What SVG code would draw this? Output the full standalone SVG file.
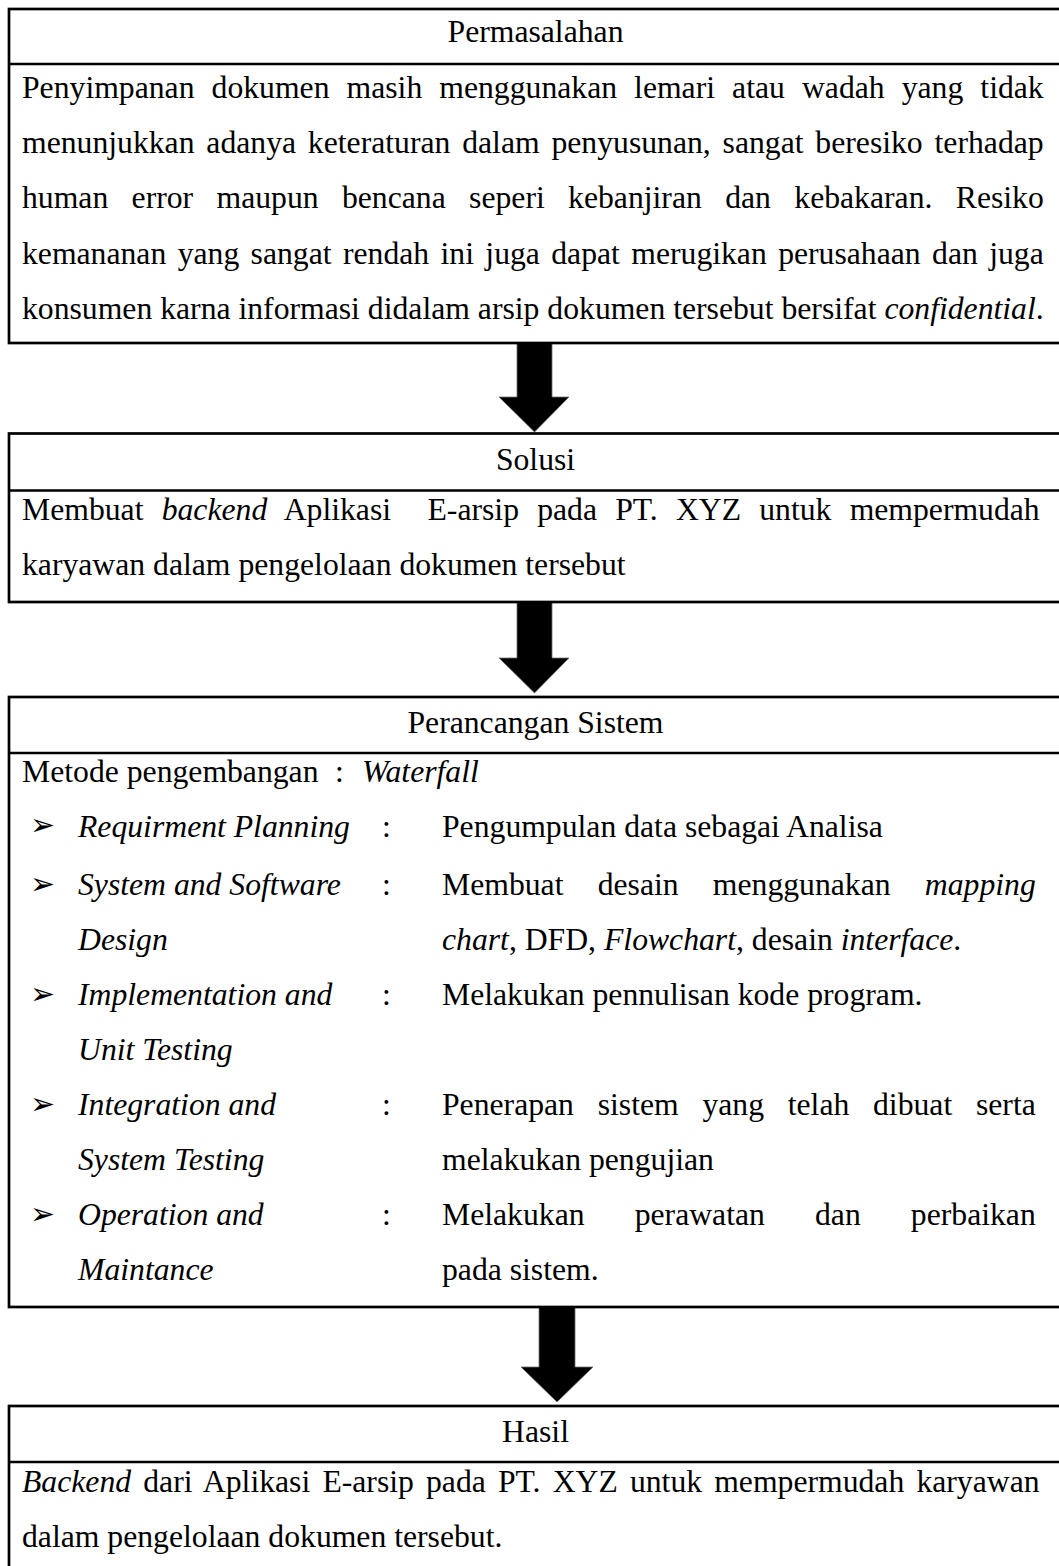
<svg xmlns="http://www.w3.org/2000/svg" width="1059" height="1566" viewBox="0 0 1059 1566">
<style>
  .box { fill: #ffffff; stroke: #000000; stroke-width: 2.7; }
  .div { stroke: #000000; stroke-width: 2.7; }
  .t { font-family: "Liberation Serif", "Times New Roman", serif; font-size: 31.7px; fill: #000000; }
  .h { text-anchor: middle; }
  .i { font-style: italic; }
  .b { font-family: "DejaVu Sans", sans-serif; font-size: 30px; fill: #000000; }
  .arrow { fill: #000000; stroke: #6e6e6e; stroke-width: 0.8; }
</style>
<rect width="1059" height="1566" fill="#ffffff"/>

<g id="connectors">
  <polygon class="arrow" points="517,343 552,343 552,397 569,397 534.5,432 499,397 517,397"/>
  <polygon class="arrow" points="517,602 552,602 552,658 569,658 534.5,693 499,658 517,658"/>
  <polygon class="arrow" points="539,1307 575,1307 575,1367 593,1367 557,1402 521,1367 539,1367"/>
</g>

<g id="permasalahan">
  <rect class="box" x="9" y="9" width="1056" height="334"/>
  <line class="div" x1="9" y1="64" x2="1065" y2="64"/>
  <text class="t h" x="535.5" y="42">Permasalahan</text>
  <text class="t" x="22" y="98" style="word-spacing:9.14px">Penyimpanan dokumen masih menggunakan lemari atau wadah yang tidak</text>
  <text class="t" x="22" y="153.2" style="word-spacing:3.91px">menunjukkan adanya keteraturan dalam penyusunan, sangat beresiko terhadap</text>
  <text class="t" x="22" y="208.4" style="word-spacing:15.43px">human error maupun bencana seperi kebanjiran dan kebakaran. Resiko</text>
  <text class="t" x="22" y="263.6" style="word-spacing:3.45px">kemananan yang sangat rendah ini juga dapat merugikan perusahaan dan juga</text>
  <text class="t" x="22" y="318.8">konsumen karna informasi didalam arsip dokumen tersebut bersifat <tspan class="i">confidential</tspan>.</text>
</g>

<g id="solusi">
  <rect class="box" x="9" y="433.5" width="1056" height="168.5"/>
  <line class="div" x1="9" y1="490.5" x2="1065" y2="490.5"/>
  <text class="t h" x="535.5" y="469.5">Solusi</text>
  <text class="t" x="22" y="520" xml:space="preserve" style="word-spacing:10.28px">Membuat <tspan class="i">backend</tspan> Aplikasi  E-arsip pada PT. XYZ untuk mempermudah</text>
  <text class="t" x="22" y="574.7">karyawan dalam pengelolaan dokumen tersebut</text>
</g>

<g id="perancangan">
  <rect class="box" x="9" y="697" width="1056" height="610"/>
  <line class="div" x1="9" y1="753" x2="1065" y2="753"/>
  <text class="t h" x="535.5" y="733">Perancangan Sistem</text>
  <text class="t" x="22" y="782">Metode pengembangan</text>
  <text class="t" x="335" y="782">:</text>
  <text class="t i" x="362" y="782">Waterfall</text>

  <text class="b" x="30" y="835">➢</text>
  <text class="t i" x="78" y="836.7">Requirment Planning</text>
  <text class="t" x="382" y="836.7">:</text>
  <text class="t" x="442" y="836.7">Pengumpulan data sebagai Analisa</text>

  <text class="b" x="30" y="893.5">➢</text>
  <text class="t i" x="78" y="895">System and Software</text>
  <text class="t" x="382" y="895">:</text>
  <text class="t" x="442" y="895" style="word-spacing:26.3px">Membuat desain menggunakan <tspan class="i">mapping</tspan></text>
  <text class="t i" x="78" y="949.7">Design</text>
  <text class="t" x="442" y="949.7"><tspan class="i">chart</tspan>, DFD, <tspan class="i">Flowchart</tspan>, desain <tspan class="i">interface</tspan>.</text>

  <text class="b" x="30" y="1003.5">➢</text>
  <text class="t i" x="78" y="1005">Implementation and</text>
  <text class="t" x="382" y="1005">:</text>
  <text class="t" x="442" y="1005">Melakukan pennulisan kode program.</text>
  <text class="t i" x="78" y="1059.7">Unit Testing</text>

  <text class="b" x="30" y="1113.5">➢</text>
  <text class="t i" x="78" y="1115">Integration and</text>
  <text class="t" x="382" y="1115">:</text>
  <text class="t" x="442" y="1115" style="word-spacing:15.8px">Penerapan sistem yang telah dibuat serta</text>
  <text class="t i" x="78" y="1169.7">System Testing</text>
  <text class="t" x="442" y="1169.7">melakukan pengujian</text>

  <text class="b" x="30" y="1223.5">➢</text>
  <text class="t i" x="78" y="1225">Operation and</text>
  <text class="t" x="382" y="1225">:</text>
  <text class="t" x="442" y="1225" style="word-spacing:42.2px">Melakukan perawatan dan perbaikan</text>
  <text class="t i" x="78" y="1279.7">Maintance</text>
  <text class="t" x="442" y="1279.7">pada sistem.</text>
</g>

<g id="hasil">
  <rect class="box" x="9" y="1406" width="1056" height="200"/>
  <line class="div" x1="9" y1="1462" x2="1065" y2="1462"/>
  <text class="t h" x="535.5" y="1442">Hasil</text>
  <text class="t" x="22" y="1492" style="word-spacing:4.21px"><tspan class="i">Backend</tspan> dari Aplikasi E-arsip pada PT. XYZ untuk mempermudah karyawan</text>
  <text class="t" x="22" y="1546.7">dalam pengelolaan dokumen tersebut.</text>
</g>
</svg>
